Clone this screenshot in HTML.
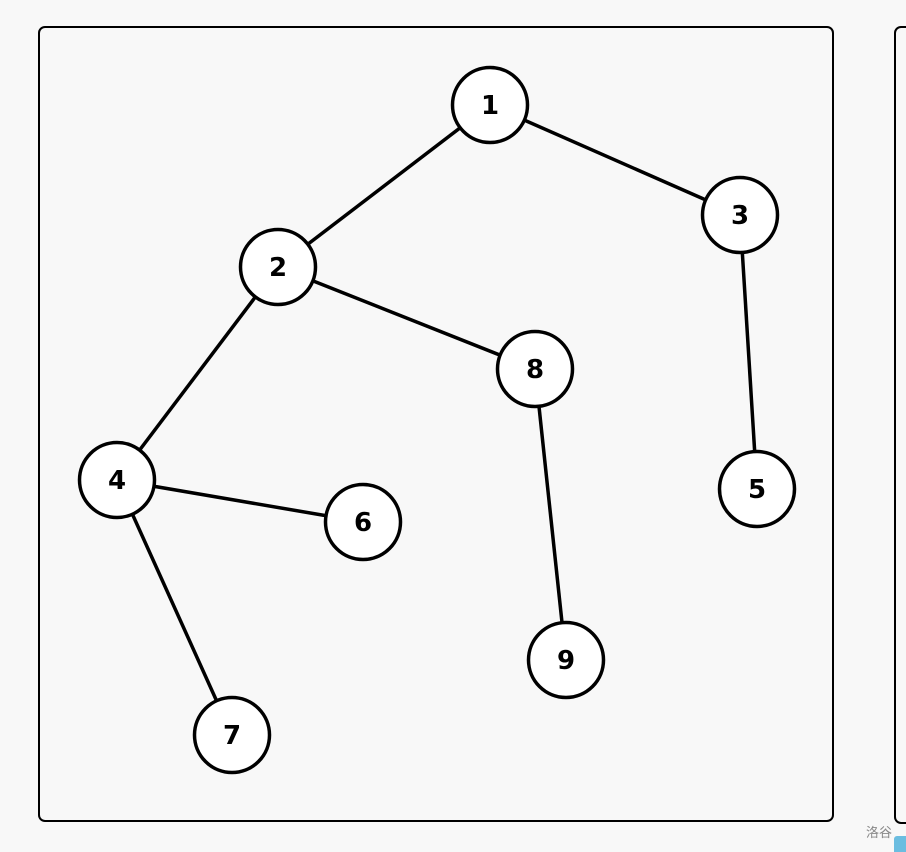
<!DOCTYPE html>
<html><head><style>
html,body{margin:0;padding:0;background:#f8f8f8;width:906px;height:852px;overflow:hidden}
</style></head><body>
<svg width="906" height="852" xmlns="http://www.w3.org/2000/svg" style="position:absolute;left:0;top:0">
<rect x="39" y="27" width="794" height="794" rx="6" fill="#f8f8f8" stroke="#000" stroke-width="2"/>
<rect x="895" y="27" width="40" height="796" rx="6" fill="#f8f8f8" stroke="#000" stroke-width="2"/>
<rect x="894" y="836" width="20" height="20" rx="3" fill="#6bbde0"/>
<text x="879" y="837" font-family="'Noto Sans CJK SC',sans-serif" font-size="13" fill="#888" text-anchor="middle">洛谷</text>
<g stroke="#000" stroke-width="3.5">
<line x1="490" y1="105" x2="278" y2="267"/>
<line x1="490" y1="105" x2="740" y2="215"/>
<line x1="740" y1="215" x2="757" y2="489"/>
<line x1="278" y1="267" x2="535" y2="369"/>
<line x1="278" y1="267" x2="117" y2="480"/>
<line x1="535" y1="369" x2="566" y2="660"/>
<line x1="117" y1="480" x2="363" y2="522"/>
<line x1="117" y1="480" x2="232" y2="735"/>
</g>
<g fill="#fff" stroke="#000" stroke-width="3.5">
<circle cx="490" cy="105" r="37.5"/><circle cx="278" cy="267" r="37.5"/><circle cx="740" cy="215" r="37.5"/>
<circle cx="117" cy="480" r="37.5"/><circle cx="757" cy="489" r="37.5"/><circle cx="363" cy="522" r="37.5"/>
<circle cx="232" cy="735" r="37.5"/><circle cx="535" cy="369" r="37.5"/><circle cx="566" cy="660" r="37.5"/>
</g>
<g font-family="'DejaVu Sans',sans-serif" font-weight="bold" font-size="26" text-anchor="middle">
<text x="490" y="114">1</text><text x="278" y="276">2</text><text x="740" y="224">3</text>
<text x="117" y="489">4</text><text x="757" y="498">5</text><text x="363" y="531">6</text>
<text x="232" y="744">7</text><text x="535" y="378">8</text><text x="566" y="669">9</text>
</g>
</svg>
</body></html>
